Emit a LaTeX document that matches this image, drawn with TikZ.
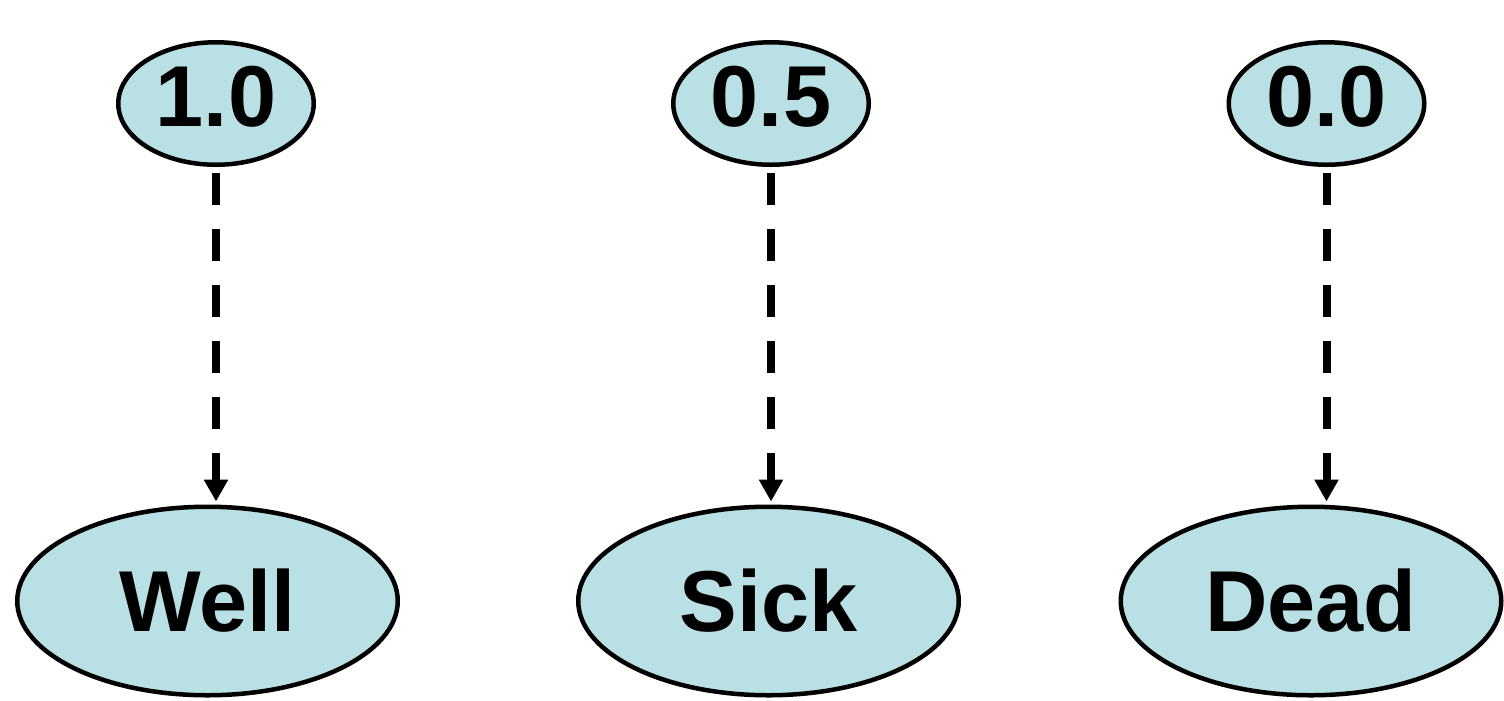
\documentclass[tikz,border=0pt]{standalone}
\usepackage{fontspec}
\setmainfont{Liberation Sans}
\usetikzlibrary{shapes.geometric, arrows.meta}

\definecolor{stateblue}{RGB}{185,224,228}

\begin{document}
\begin{tikzpicture}[font=\fontsize{24.6}{29}\selectfont\bfseries]
    \tikzstyle{every node} = [ellipse, draw, line width=0.045cm, fill=stateblue, inner sep=0pt]
    \tikzstyle{value} = [minimum width=1.955cm, minimum height=1.225cm, text depth=0.14cm]
    \tikzstyle{state} = [minimum width=3.805cm, minimum height=1.885cm]
    \tikzstyle{link} = [line width=0.08cm, dash pattern=on 0.32cm off 0.24cm,
                        -{Triangle[width=0.23cm, length=0.22cm]},
                        shorten <=0.06cm, shorten >=0.03cm]

    \useasboundingbox (0, 0) rectangle (15.04, 7);

    \node [value] (v1) at (2.16, 5.965) {1.0};
    \node [value] (v2) at (7.71, 5.965) {0.5};
    \node [value] (v3) at (13.265, 5.965) {0.0};

    \node [state] (well) at (2.075, 0.99) {Well};
    \node [state] (sick) at (7.685, 0.99) {Sick};
    \node [state] (dead) at (13.11, 0.99) {Dead};

    \draw [link] (v1.south) -- (v1.south |- well.north);
    \draw [link] (v2.south) -- (v2.south |- sick.north);
    \draw [link] (v3.south) -- (v3.south |- dead.north);
\end{tikzpicture}
\end{document}
